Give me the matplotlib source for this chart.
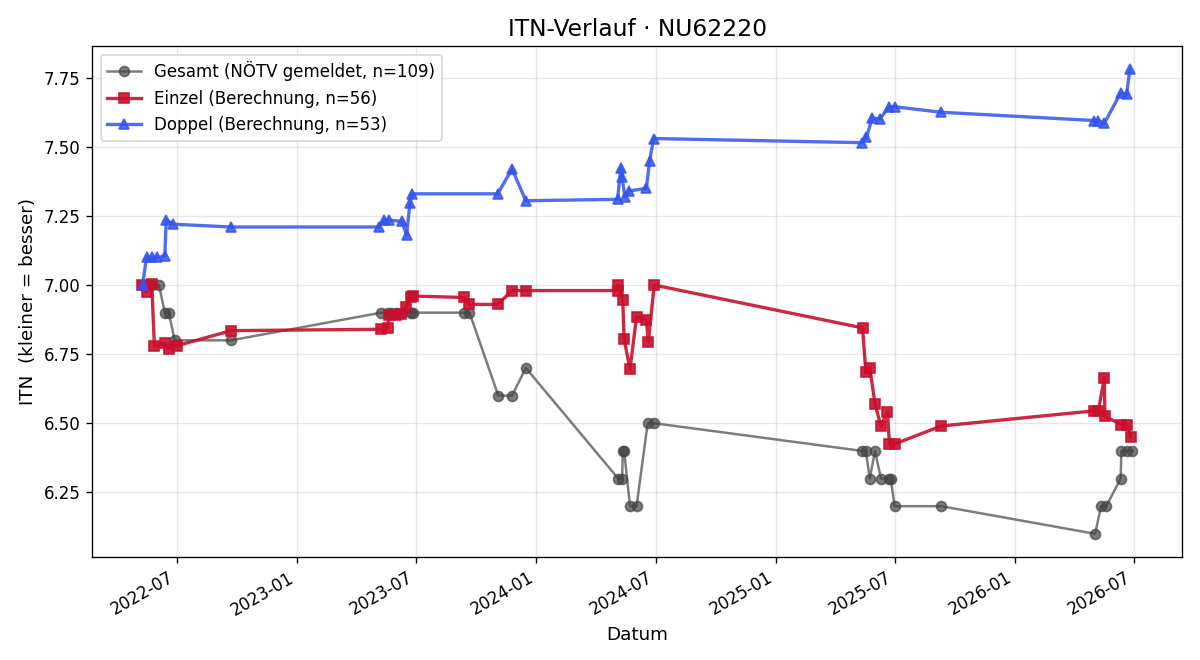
import matplotlib
matplotlib.use("Agg")
import matplotlib.pyplot as plt
import matplotlib.dates as mdates
import pandas as pd
from matplotlib.ticker import FormatStrFormatter, MultipleLocator

gesamt_dates = ["2022-05-10", "2022-05-16", "2022-05-24", "2022-06-04", "2022-06-13", "2022-06-19",
                "2022-06-28", "2022-09-22",
                "2023-05-09", "2023-05-19", "2023-05-24", "2023-06-01", "2023-06-10", "2023-06-24",
                "2023-06-27", "2023-09-12", "2023-09-21", "2023-11-04", "2023-11-25", "2023-12-16",
                "2024-05-05", "2024-05-11", "2024-05-12", "2024-05-14", "2024-05-23", "2024-06-02",
                "2024-06-19", "2024-06-29",
                "2025-05-12", "2025-05-18", "2025-05-24", "2025-06-01", "2025-06-10", "2025-06-22",
                "2025-06-25", "2025-07-01", "2025-09-10",
                "2026-05-03", "2026-05-12", "2026-05-20", "2026-06-11", "2026-06-12", "2026-06-20",
                "2026-06-29"]
gesamt_vals = [7.0, 7.0, 7.0, 7.0, 6.9, 6.9, 6.8, 6.8,
               6.9, 6.9, 6.9, 6.9, 6.9, 6.9, 6.9, 6.9, 6.9, 6.6, 6.6, 6.7,
               6.3, 6.3, 6.4, 6.4, 6.2, 6.2, 6.5, 6.5,
               6.4, 6.4, 6.3, 6.4, 6.3, 6.3, 6.3, 6.2, 6.2,
               6.1, 6.2, 6.2, 6.3, 6.4, 6.4, 6.4]

einzel_dates = ["2022-05-09", "2022-05-16", "2022-05-24", "2022-05-28", "2022-06-13", "2022-06-19",
                "2022-07-01", "2022-09-22",
                "2023-05-09", "2023-05-19", "2023-05-21", "2023-06-01", "2023-06-09", "2023-06-16",
                "2023-06-24", "2023-06-27", "2023-09-12", "2023-09-21", "2023-11-03", "2023-11-25",
                "2023-12-16",
                "2024-05-04", "2024-05-05", "2024-05-12", "2024-05-14", "2024-05-23", "2024-06-02",
                "2024-06-17", "2024-06-20", "2024-06-29",
                "2025-05-13", "2025-05-18", "2025-05-24", "2025-06-01", "2025-06-10", "2025-06-20",
                "2025-06-23", "2025-07-01", "2025-09-10",
                "2026-05-02", "2026-05-08", "2026-05-17", "2026-05-18", "2026-06-12", "2026-06-21",
                "2026-06-26"]
einzel_vals = [7.0, 6.975, 7.005, 6.78, 6.79, 6.77, 6.78, 6.835,
               6.84, 6.845, 6.89, 6.89, 6.895, 6.92, 6.955, 6.96, 6.955, 6.93, 6.93, 6.98, 6.98,
               6.98, 7.0, 6.945, 6.805, 6.695, 6.885, 6.875, 6.795, 7.0,
               6.845, 6.685, 6.70, 6.57, 6.49, 6.54, 6.425, 6.425, 6.49,
               6.545, 6.545, 6.665, 6.525, 6.495, 6.495, 6.45]

doppel_dates = ["2022-05-10", "2022-05-16", "2022-05-24", "2022-06-01", "2022-06-13", "2022-06-15",
                "2022-06-26", "2022-09-22",
                "2023-05-06", "2023-05-13", "2023-05-21", "2023-06-10", "2023-06-17", "2023-06-22",
                "2023-06-25", "2023-11-03", "2023-11-25", "2023-12-16",
                "2024-05-04", "2024-05-09", "2024-05-11", "2024-05-15", "2024-05-21", "2024-06-17",
                "2024-06-22", "2024-06-28",
                "2025-05-12", "2025-05-19", "2025-05-28", "2025-06-08", "2025-06-23", "2025-07-01",
                "2025-09-10",
                "2026-05-02", "2026-05-08", "2026-05-17", "2026-06-11", "2026-06-20", "2026-06-25"]
doppel_vals = [7.0, 7.1, 7.1, 7.1, 7.105, 7.235, 7.22, 7.21,
               7.21, 7.235, 7.235, 7.23, 7.18, 7.295, 7.33, 7.33, 7.42, 7.305,
               7.31, 7.425, 7.39, 7.32, 7.34, 7.35, 7.45, 7.53,
               7.515, 7.535, 7.605, 7.60, 7.645, 7.645, 7.625,
               7.595, 7.595, 7.585, 7.695, 7.69, 7.78]

labels = ["Gesamt (NÖTV gemeldet, n=109)", "Einzel (Berechnung, n=56)", "Doppel (Berechnung, n=53)"]

fig, ax = plt.subplots(figsize=(10, 5.5), dpi=120)
fig.subplots_adjust(left=0.077, right=0.985, top=0.930, bottom=0.156)

ax.plot(pd.to_datetime(gesamt_dates), gesamt_vals, marker="o", color="#444444", alpha=0.7,
        linewidth=1.5, markersize=6, label=labels[0])
ax.plot(pd.to_datetime(einzel_dates), einzel_vals, marker="s", color="#c8102e", alpha=0.9,
        linewidth=2, markersize=6, label=labels[1])
ax.plot(pd.to_datetime(doppel_dates), doppel_vals, marker="^", color="#3355ee", alpha=0.85,
        linewidth=2, markersize=6, label=labels[2])

ax.set_title("ITN-Verlauf · NU62220", fontsize=14)
ax.set_xlabel("Datum", fontsize=11)
ax.set_ylabel("ITN  (kleiner = besser)", fontsize=11)
ax.yaxis.set_major_locator(MultipleLocator(0.25))
ax.yaxis.set_major_formatter(FormatStrFormatter("%.2f"))
ax.xaxis.set_major_locator(mdates.MonthLocator(bymonth=[1, 7]))
ax.xaxis.set_major_formatter(mdates.DateFormatter("%Y-%m"))
ax.tick_params(labelsize=10)
ax.grid(True, alpha=0.3)
ax.legend(loc="upper left", fontsize=10)
for lbl in ax.get_xticklabels():
    lbl.set_rotation(30)
    lbl.set_ha("right")

fig.savefig("out.png", dpi=120)
